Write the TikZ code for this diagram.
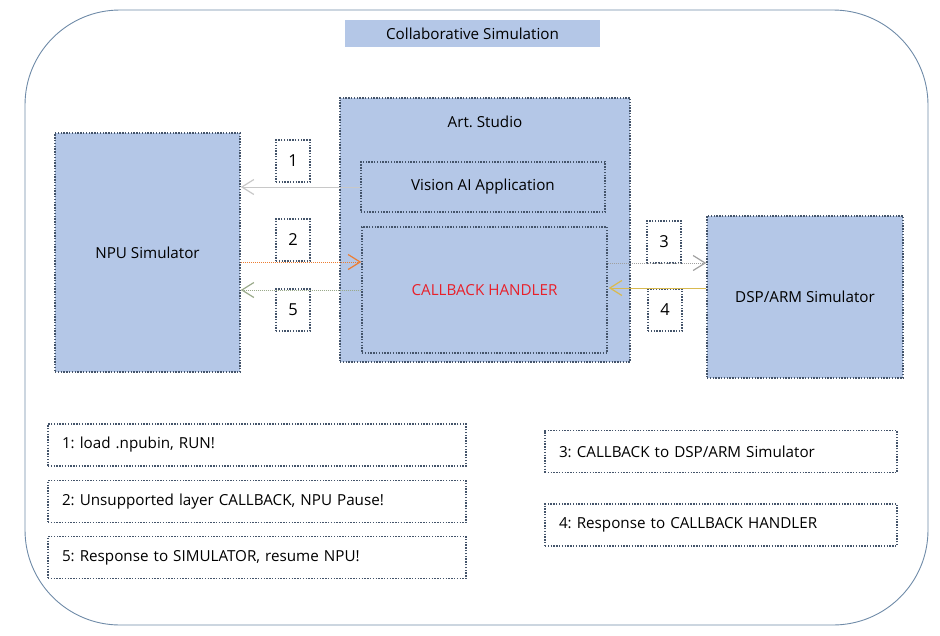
\documentclass[tikz,border=0pt]{standalone}
\usepackage{fontspec}
\setmainfont{Open Sans}
\frenchspacing
\usetikzlibrary{arrows.meta}
\definecolor{boxfill}{HTML}{B4C7E7}
\definecolor{boxline}{HTML}{44546A}
\definecolor{frameline}{HTML}{6F8BA8}
\definecolor{redtxt}{HTML}{E8202A}
\definecolor{arrgray}{HTML}{C8C8C8}
\definecolor{arrorange}{HTML}{ED7D31}
\definecolor{arrgreen}{HTML}{9AAA8A}
\definecolor{arrgold}{HTML}{D9BA50}
\tikzset{
  dotbox/.style={draw=boxline, line width=1.5pt, dash pattern=on 1.4pt off 1.4pt, inner sep=0pt},
  bluebox/.style={dotbox, fill=boxfill},
  numbox/.style={dotbox, fill=white, minimum width=34pt, minimum height=42pt, font=\fontsize{16.5}{19}\selectfont},
  notebox/.style={dotbox, fill=white, minimum height=42pt, font=\fontsize{15.2}{18}\selectfont, align=left, text width=#1, inner xsep=14pt},
  lbl/.style={font=\fontsize{15.2}{18}\selectfont},
  tip/.style={-{Straight Barb[length=12pt,width=15pt,line width=1.2pt]}},
}
\begin{document}
\begin{tikzpicture}[x=1pt,y=-1pt]
\useasboundingbox (0,0) rectangle (940,635);
% outer frame
\draw[frameline, line width=0.9pt, rounded corners=95pt] (25,10) rectangle (928,625);
% title
\node[fill=boxfill, minimum width=255pt, minimum height=27pt, inner sep=0pt, lbl] (title) at (472.5,33.5) {Collaborative Simulation};
% main boxes
\node[bluebox, minimum width=185pt, minimum height=239pt, lbl] (npu) at (147.5,252.5) {NPU Simulator};
\node[bluebox, minimum width=290pt, minimum height=264pt] (studio) at (485,230) {};
\node[lbl] (studiotitle) at (485,122) {Art. Studio};
\node[bluebox, minimum width=244pt, minimum height=50pt, lbl] (vision) at (483,187) {Vision AI Application};
\node[bluebox, minimum width=245pt, minimum height=126pt, lbl, text=redtxt] (cb) at (484.5,290) {CALLBACK HANDLER};
\node[bluebox, minimum width=196pt, minimum height=162pt, lbl] (dsp) at (805,297) {DSP/ARM Simulator};
% number boxes
\node[numbox] (n1) at (293,161) {1};
\node[numbox] (n2) at (293,240) {2};
\node[numbox] (n5) at (293,310) {5};
\node[numbox] (n3) at (664,242) {3};
\node[numbox] (n4) at (665,310) {4};
% arrows
\draw[tip, arrgray, line width=1pt] (vision.west) -- (npu.east |- vision.west);
\draw[tip, arrorange, line width=1pt, dash pattern=on 1pt off 1pt] (npu.east |- 0,262) -- (cb.west |- 0,262);
\draw[tip, arrgreen, line width=1pt, dash pattern=on 1pt off 1pt] (cb.west |- 0,290) -- (npu.east |- 0,290);
\draw[tip, arrgray!80!black, line width=1pt, dash pattern=on 1pt off 1pt] (cb.east |- 0,263) -- (dsp.west |- 0,263);
\draw[tip, arrgold, line width=1pt] (dsp.west |- 0,288) -- ([xshift=1pt]cb.east |- 0,288);
% notes
\node[notebox=390pt] (t1) at (257,445) {1: load .npubin, RUN!};
\node[notebox=390pt] (t2) at (257,501.5) {2: Unsupported layer CALLBACK, NPU Pause!};
\node[notebox=390pt] (t5) at (257,557.5) {5: Response to SIMULATOR, resume NPU!};
\node[notebox=324pt] (t3) at (721,451.5) {3: CALLBACK to DSP/ARM Simulator};
\node[notebox=324pt] (t4) at (721,525) {4: Response to CALLBACK HANDLER};
\end{tikzpicture}
\end{document}
